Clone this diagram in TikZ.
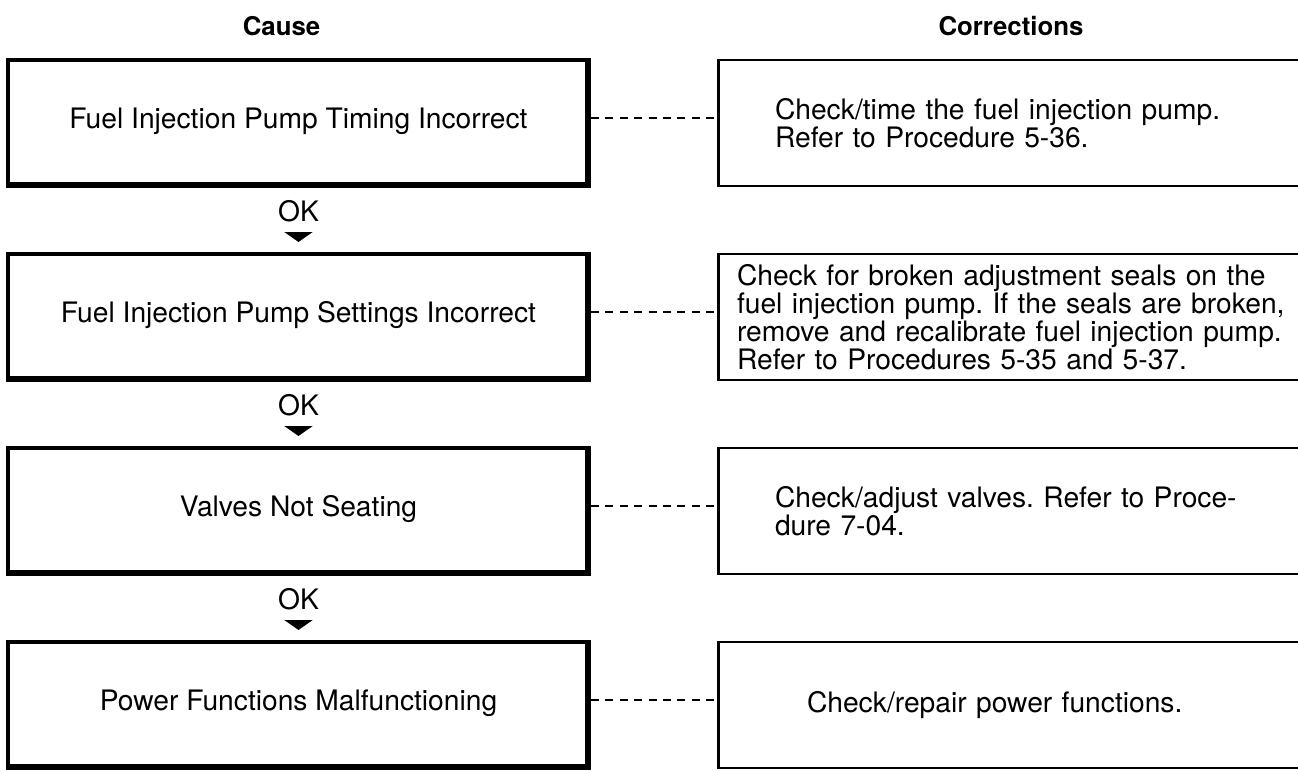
\documentclass[tikz,border=0pt]{standalone}
\usepackage{fontspec}
\setmainfont{TeX Gyre Heros}
\usepackage{tikz}
\usetikzlibrary{arrows.meta,positioning}

\begin{document}
\begin{tikzpicture}[node distance=32pt and 63pt,
  cs/.style={draw,line width=2pt,minimum width=290.5pt,minimum height=63pt,align=center,
             text depth=5pt,font=\fontsize{14.1}{14}\selectfont\frenchspacing},
  fx/.style={draw,line width=1.4pt,text width=300pt,inner xsep=#1,minimum height=63pt,
             align=left,font=\fontsize{14.1}{14}\selectfont\frenchspacing},
  fx/.default=14pt,
  hd/.style={font=\fontsize{12.9}{13}\selectfont\bfseries,inner sep=0pt},
  ok/.style={font=\fontsize{14.1}{14}\selectfont,inner sep=0pt},
  okarrow/.style={line width=5.5pt,-{Triangle[width=14pt,length=5pt]},
             shorten <=5.5pt,shorten >=5pt},
  link/.style={line width=1.4pt,dash pattern=on 4pt off 3.2pt}]
  \useasboundingbox (0,0) rectangle (649pt,-385.5pt);
  % causes, left column
  \node[cs] (c1) at (149.25pt,-61.5pt) {Fuel Injection Pump Timing Incorrect};
  \node[cs,below=of c1] (c2) {Fuel Injection Pump Settings Incorrect};
  \node[cs,below=of c2] (c3) {Valves Not Seating};
  \node[cs,below=of c3] (c4) {Power Functions Malfunctioning};
  % heavier bottom and right edges
  \foreach \n in {c1,c2,c3,c4}
    \draw[line width=1pt] ([shift={(1pt,2.5pt)}]\n.south west) -| ([shift={(-2.5pt,-1pt)}]\n.north east);
  % corrections, right column (open to the right)
  \node[fx=28.3pt,right=of c1] (r1) {Check/time the fuel injection pump.\\Refer to Procedure 5-36.};
  \node[fx=9.3pt,right=of c2] (r2) {Check for broken adjustment seals on the\\fuel injection pump. If the seals are broken,\\remove and recalibrate fuel injection pump.\\Refer to Procedures 5-35 and 5-37.};
  \node[fx=28.3pt,right=of c3] (r3) {Check/adjust valves. Refer to Proce-\\dure 7-04.};
  \node[fx=44.3pt,right=of c4] (r4) {Check/repair power functions.};
  \node[hd,above=11pt of c1,xshift=-8.5pt] (cause) {Cause};
  \node[hd,above=11pt of r1.north west,xshift=147pt] (corr) {Corrections};
  \foreach \a/\b in {1/2,2/3,3/4} {
    \node[ok,below=6pt of c\a] (k\a) {OK};
    \draw[okarrow] (k\a) -- (c\b);
  }
  \foreach \i in {1,...,4} \draw[link] ([yshift=2.5pt]c\i.east) -- ([yshift=2.5pt]r\i.west);
\end{tikzpicture}
\end{document}
